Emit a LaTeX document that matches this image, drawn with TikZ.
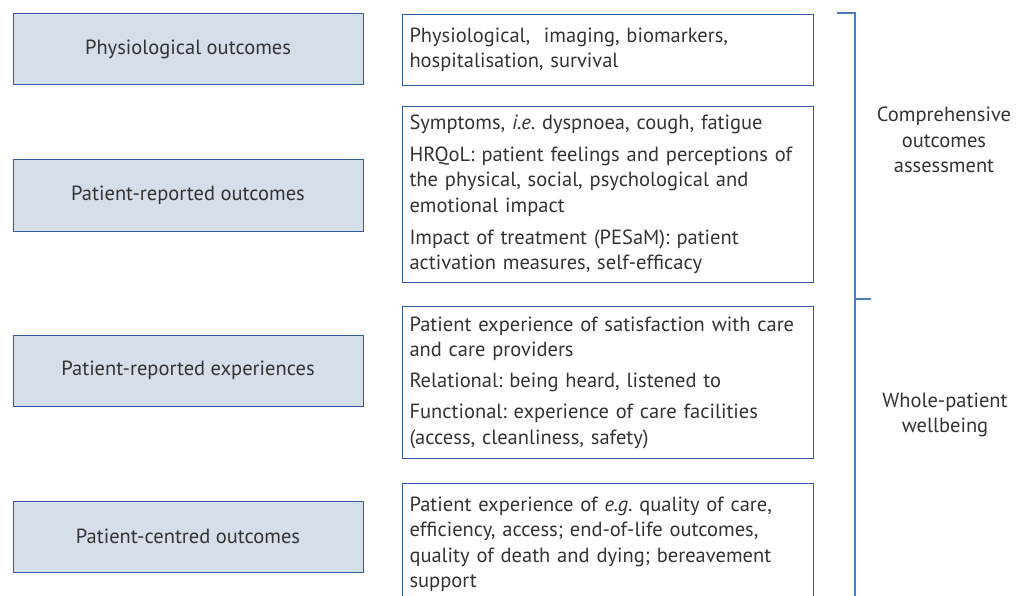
\documentclass[tikz,border=0pt]{standalone}
\usepackage{fontspec}
\setmainfont{PT Sans}
\usetikzlibrary{positioning}
\definecolor{boxfill}{HTML}{D6DEEA}
\definecolor{boxline}{HTML}{2F5E9E}
\definecolor{brace}{HTML}{4A7EBB}
\definecolor{txt}{HTML}{333333}
\frenchspacing

\begin{document}
\begin{tikzpicture}[x=1pt,y=-1pt,
		outcome/.style = {draw=boxline, fill=boxfill, line width=1pt, minimum width=350pt, minimum height=71pt, text=txt, font=\fontsize{20.5}{24}\selectfont},
		detail/.style = {draw=boxline, line width=1pt, anchor=north west, text width=397pt, inner xsep=7pt, inner ysep=3pt, align=left, text=txt, font=\fontsize{20.5}{25.5}\selectfont},
		side/.style = {align=center, text=txt, font=\fontsize{20.5}{25.5}\selectfont}]
	\useasboundingbox (0,0) rectangle (1019,596);
	% left column
	\node[outcome] (phys) at (188,49.5) {Physiological outcomes};
	\node[outcome] (pro) at (188,195.5) {Patient-reported outcomes};
	\node[outcome] (pre) at (188,370.5) {Patient-reported experiences};
	\node[outcome] (pco) at (188,536.5) {Patient-centred outcomes};
	% right column
	\node[detail, minimum height=71pt] (physd) at (402,14) {Physiological,~ imaging, biomarkers,\\hospitalisation, survival};
	\node[detail, minimum height=176pt] (prod) at (402,106) {Symptoms, \textit{i.e}. dyspnoea, cough, fatigue\\[6.5pt]HRQoL: patient feelings and perceptions of\\the physical, social, psychological and\\emotional impact\\[6.5pt]Impact of treatment (PESaM): patient\\activation measures, self-efficacy};
	\node[detail, minimum height=152pt] (pred) at (402,306) {Patient experience of satisfaction with care\\and care providers\\[5.5pt]Relational: being heard, listened to\\[5.5pt]Functional: experience of care facilities\\(access, cleanliness, safety)};
	\node[detail, minimum height=122pt] (pcod) at (402,483) {Patient experience of \textit{e.g}. quality of care,\\efficiency, access; end-of-life outcomes,\\quality of death and dying; bereavement\\support};
	% bracket
	\coordinate (btop) at (837,13);
	\coordinate (bcor) at (855,13);
	\coordinate (bbot) at (855,600);
	\coordinate (bmid) at (855,299);
	\coordinate (btick) at (871,299);
	\draw[brace, line width=1.2pt] (btop) -- (bcor) -- (bbot);
	\draw[brace, line width=1.2pt] (bmid) -- (btick);
	\node[side] (coa) at (944,140) {Comprehensive\\outcomes\\assessment};
	\node[side] (wpw) at (945,415) {Whole-patient\\wellbeing};
\end{tikzpicture}
\end{document}
